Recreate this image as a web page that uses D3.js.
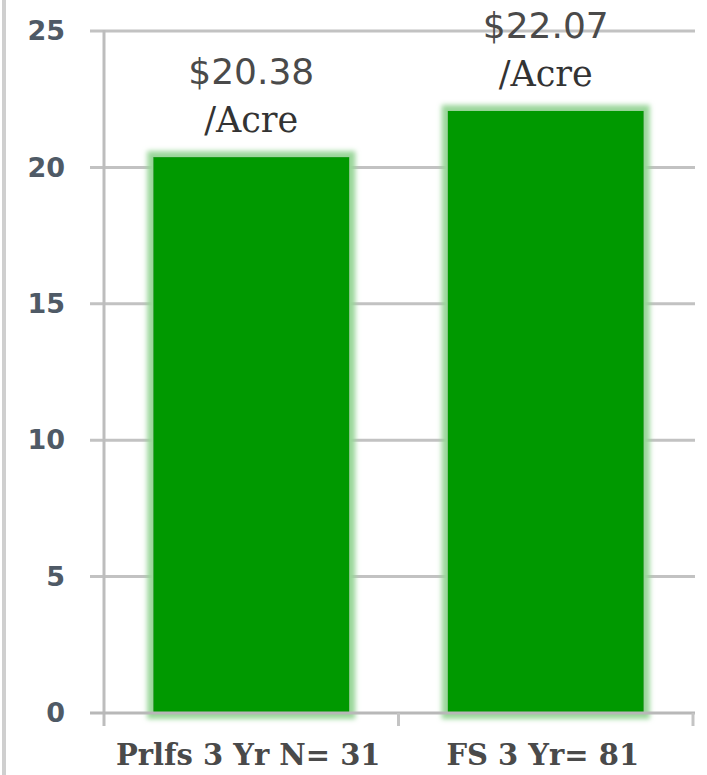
<!DOCTYPE html>
<html>
<head>
<meta charset="utf-8">
<script src="https://cdn.jsdelivr.net/npm/d3@7"></script>
<style>
  html, body { margin: 0; padding: 0; background: #fff; }
  svg { display: block; }
</style>
</head>
<body>
<svg id="chart" width="707" height="775"></svg>
<script>
// Cost per acre, three-year averages
const categories = ["Prlfs 3 Yr N= 31", "FS 3 Yr= 81"];
const values = [20.38, 22.07];
const valueLabels = ["$20.38", "$22.07"];
const unitLabel = "/Acre";
const yTicks = [0, 5, 10, 15, 20, 25];

const svg = d3.select("#chart");
const W = 707, H = 775;
const plotLeft = 104, plotRight = 693, plotTop = 31, plotBottom = 713;

const x = d3.scaleBand().domain(categories).range([plotLeft, plotRight])
  .paddingInner(0.334).paddingOuter(0.167);
const y = d3.scaleLinear().domain([0, 25]).range([plotBottom, plotTop]);

// soft halo around the bars
const defs = svg.append("defs");
const f = defs.append("filter").attr("id", "halo")
  .attr("x", "-15%").attr("y", "-15%").attr("width", "130%").attr("height", "130%");
f.append("feMorphology").attr("in", "SourceAlpha").attr("operator", "dilate").attr("radius", 6).attr("result", "grow");
f.append("feGaussianBlur").attr("in", "grow").attr("stdDeviation", 2.5).attr("result", "blur");
f.append("feFlood").attr("flood-color", "#9ad69a").attr("flood-opacity", 1);
f.append("feComposite").attr("in2", "blur").attr("operator", "in").attr("result", "glow");
const m = f.append("feMerge");
m.append("feMergeNode").attr("in", "glow");
m.append("feMergeNode").attr("in", "SourceGraphic");

// frame line on the left edge
svg.append("rect").attr("x", 2).attr("y", 0).attr("width", 4).attr("height", H).attr("fill", "#cfcfcf");

// horizontal gridlines
svg.append("g").selectAll("line").data(yTicks.filter(d => d > 0)).join("line")
  .attr("x1", 90).attr("x2", 695)
  .attr("y1", d => y(d)).attr("y2", d => y(d))
  .attr("stroke", "#c2c2c2").attr("stroke-width", 3);

// bars
svg.append("g").selectAll("rect").data(values).join("rect")
  .attr("x", (d, i) => x(categories[i]))
  .attr("width", x.bandwidth())
  .attr("y", d => y(d))
  .attr("height", d => y(0) - y(d))
  .attr("fill", "#009900")
  .attr("filter", "url(#halo)");

// y axis labels
const yAxis = d3.axisLeft(y).tickValues(yTicks).tickSize(0).tickPadding(39);
const gy = svg.append("g").attr("transform", `translate(${plotLeft},0)`).call(yAxis);
gy.select(".domain").remove();
gy.selectAll("text")
  .attr("font-family", "DejaVu Sans, sans-serif")
  .attr("font-weight", "bold")
  .attr("font-size", 27)
  .attr("fill", "#4f5a66");

// axis lines
svg.append("line").attr("x1", plotLeft).attr("x2", plotLeft).attr("y1", plotTop - 1).attr("y2", 726)
  .attr("stroke", "#bdbdbd").attr("stroke-width", 3);
svg.append("line").attr("x1", 90).attr("x2", 695).attr("y1", y(0)).attr("y2", y(0))
  .attr("stroke", "#b8b8b8").attr("stroke-width", 3);
const bounds = [plotLeft, x(categories[1]) - x.step() * x.paddingInner() / 2, plotRight];
svg.append("g").selectAll("line").data(bounds.slice(1)).join("line")
  .attr("x1", d => d).attr("x2", d => d).attr("y1", y(0)).attr("y2", 726)
  .attr("stroke", "#c4c4c4").attr("stroke-width", 3);

// value labels
const vl = svg.append("g").attr("text-anchor", "middle");
values.forEach((v, i) => {
  const cx = x(categories[i]) + x.bandwidth() / 2;
  vl.append("text").attr("x", cx).attr("y", y(v) - 73)
    .attr("font-family", "DejaVu Sans, sans-serif").attr("font-size", 36)
    .attr("fill", "#4a4a4a").text(valueLabels[i]);
  vl.append("text").attr("x", cx).attr("y", y(v) - 25)
    .attr("font-family", "DejaVu Serif, serif").attr("font-size", 35)
    .attr("fill", "#333").text(unitLabel);
});

// category labels
svg.append("g").selectAll("text").data(categories).join("text")
  .attr("x", d => x(d) + x.bandwidth() / 2 - 3)
  .attr("y", 765)
  .attr("text-anchor", "middle")
  .attr("font-family", "DejaVu Serif, serif")
  .attr("font-weight", "bold")
  .attr("font-size", 29)
  .attr("fill", "#4a4a4a")
  .text(d => d);
</script>
</body>
</html>
